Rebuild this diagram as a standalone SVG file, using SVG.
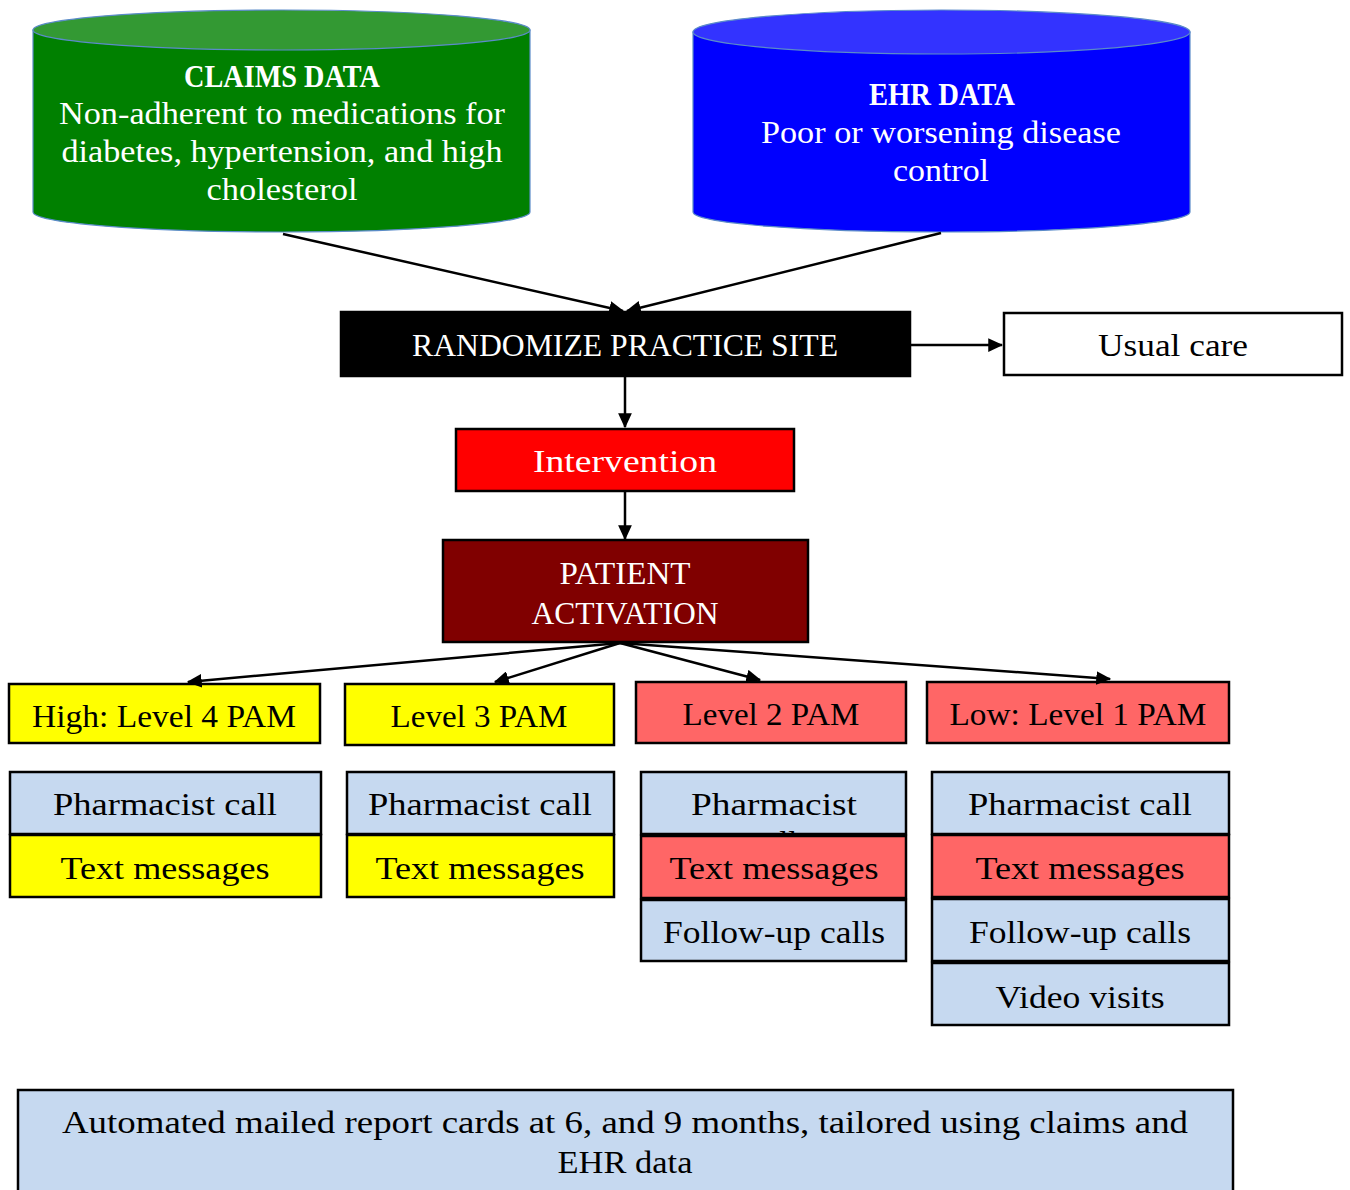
<svg xmlns="http://www.w3.org/2000/svg" width="1350" height="1190" viewBox="0 0 1350 1190">
<defs>
<style>
text{font-family:"Liberation Serif","DejaVu Serif",serif;font-size:32px;text-anchor:middle}
.w{fill:#fff}
.k{fill:#000}
.b{font-weight:bold}
.box{stroke:#000;stroke-width:2.5}
.cyl{stroke:#5b8bc9;stroke-width:1.2}
.con{stroke:#000;stroke-width:2.5;fill:none;marker-end:url(#ah)}
.lb{fill:#c6d9f0}
.ye{fill:#ffff00}
.rd{fill:#ff6666}
</style>
<marker id="ah" markerWidth="6" markerHeight="5.5" refX="5.5" refY="2.75" orient="auto" markerUnits="strokeWidth">
<path d="M0,0 L6,2.75 L0,5.5 z" fill="#000"/>
</marker>
<clipPath id="c3clip"><rect x="641" y="772" width="265" height="62"/></clipPath>
</defs>
<rect width="1350" height="1190" fill="#fff"/>

<g id="claims">
<path class="cyl" d="M33,30 L33,212 A248.5,20 0 0 0 530,212 L530,30 Z" fill="#008000"/>
<ellipse class="cyl" cx="281.5" cy="30" rx="248.5" ry="20" fill="#339933"/>
<text class="w b" x="282" y="87" textLength="196" lengthAdjust="spacingAndGlyphs">CLAIMS DATA</text>
<text class="w" x="282" y="124" textLength="446" lengthAdjust="spacingAndGlyphs">Non-adherent to medications for</text>
<text class="w" x="282" y="162" textLength="441" lengthAdjust="spacingAndGlyphs">diabetes, hypertension, and high</text>
<text class="w" x="282" y="200" textLength="151" lengthAdjust="spacingAndGlyphs">cholesterol</text>
</g>

<g id="ehr">
<path class="cyl" d="M693,32 L693,212 A248.5,20 0 0 0 1190,212 L1190,32 Z" fill="#0000ff"/>
<ellipse class="cyl" cx="941.5" cy="32" rx="248.5" ry="22" fill="#3333ff"/>
<text class="w b" x="942" y="105" textLength="146" lengthAdjust="spacingAndGlyphs">EHR DATA</text>
<text class="w" x="941" y="143" textLength="360" lengthAdjust="spacingAndGlyphs">Poor or worsening disease</text>
<text class="w" x="941" y="181" textLength="96" lengthAdjust="spacingAndGlyphs">control</text>
</g>

<g id="randomize">
<rect class="box" x="341" y="312" width="569" height="64" fill="#000" stroke-width="1"/>
<text class="w" x="625" y="356" textLength="426" lengthAdjust="spacingAndGlyphs">RANDOMIZE PRACTICE SITE</text>
</g>

<g id="usual">
<rect class="box" x="1004" y="313" width="338" height="62" fill="#fff"/>
<text class="k" x="1173" y="356" textLength="150" lengthAdjust="spacingAndGlyphs">Usual care</text>
</g>

<g id="intervention">
<rect class="box" x="456" y="429" width="338" height="62" fill="#ff0000"/>
<text class="w" x="625" y="472" textLength="184" lengthAdjust="spacingAndGlyphs">Intervention</text>
</g>

<g id="activation">
<rect class="box" x="443" y="540" width="365" height="102" fill="#800000"/>
<text class="w" x="625" y="584" textLength="131" lengthAdjust="spacingAndGlyphs">PATIENT</text>
<text class="w" x="625" y="624" textLength="187" lengthAdjust="spacingAndGlyphs">ACTIVATION</text>
</g>

<g id="level4">
<rect class="box ye" x="9" y="684" width="311" height="59"/>
<text class="k" x="164" y="727" textLength="264" lengthAdjust="spacingAndGlyphs">High: Level 4 PAM</text>
</g>
<g id="level3">
<rect class="box ye" x="345" y="684" width="269" height="61"/>
<text class="k" x="479" y="727" textLength="177" lengthAdjust="spacingAndGlyphs">Level 3 PAM</text>
</g>
<g id="level2">
<rect class="box rd" x="636" y="682" width="270" height="61"/>
<text class="k" x="771" y="725" textLength="177" lengthAdjust="spacingAndGlyphs">Level 2 PAM</text>
</g>
<g id="level1">
<rect class="box rd" x="927" y="682" width="302" height="61"/>
<text class="k" x="1078" y="725" textLength="257" lengthAdjust="spacingAndGlyphs">Low: Level 1 PAM</text>
</g>

<g id="c1-pharm">
<rect class="box lb" x="10" y="772" width="311" height="62"/>
<text class="k" x="165" y="815" textLength="224" lengthAdjust="spacingAndGlyphs">Pharmacist call</text>
</g>
<g id="c1-text">
<rect class="box ye" x="10" y="835" width="311" height="62"/>
<text class="k" x="165" y="879" textLength="209" lengthAdjust="spacingAndGlyphs">Text messages</text>
</g>
<g id="c2-pharm">
<rect class="box lb" x="347" y="772" width="267" height="62"/>
<text class="k" x="480" y="815" textLength="224" lengthAdjust="spacingAndGlyphs">Pharmacist call</text>
</g>
<g id="c2-text">
<rect class="box ye" x="347" y="835" width="267" height="62"/>
<text class="k" x="480" y="879" textLength="209" lengthAdjust="spacingAndGlyphs">Text messages</text>
</g>
<g id="c3-pharm">
<rect class="box lb" x="641" y="772" width="265" height="62"/>
<g clip-path="url(#c3clip)">
<text class="k" x="774" y="815" textLength="166" lengthAdjust="spacingAndGlyphs">Pharmacist</text>
<text class="k" x="774" y="853">call</text>
</g>
</g>
<g id="c3-text">
<rect class="box rd" x="641" y="836" width="265" height="62"/>
<text class="k" x="774" y="879" textLength="209" lengthAdjust="spacingAndGlyphs">Text messages</text>
</g>
<g id="c3-follow">
<rect class="box lb" x="641" y="900" width="265" height="61"/>
<text class="k" x="774" y="943" textLength="222" lengthAdjust="spacingAndGlyphs">Follow-up calls</text>
</g>
<g id="c4-pharm">
<rect class="box lb" x="932" y="772" width="297" height="62"/>
<text class="k" x="1080" y="815" textLength="224" lengthAdjust="spacingAndGlyphs">Pharmacist call</text>
</g>
<g id="c4-text">
<rect class="box rd" x="932" y="835" width="297" height="62"/>
<text class="k" x="1080" y="879" textLength="209" lengthAdjust="spacingAndGlyphs">Text messages</text>
</g>
<g id="c4-follow">
<rect class="box lb" x="932" y="899" width="297" height="62"/>
<text class="k" x="1080" y="943" textLength="222" lengthAdjust="spacingAndGlyphs">Follow-up calls</text>
</g>
<g id="c4-video">
<rect class="box lb" x="932" y="963" width="297" height="62"/>
<text class="k" x="1080" y="1008" textLength="169" lengthAdjust="spacingAndGlyphs">Video visits</text>
</g>

<g id="reportcards">
<rect class="box lb" x="18" y="1090" width="1215" height="110"/>
<text class="k" x="625" y="1133" textLength="1126" lengthAdjust="spacingAndGlyphs">Automated mailed report cards at 6, and 9 months, tailored using claims and</text>
<text class="k" x="625" y="1173" textLength="135" lengthAdjust="spacingAndGlyphs">EHR data</text>
</g>

<g id="connectors">
<line class="con" x1="283" y1="234" x2="623" y2="311"/>
<line class="con" x1="941" y1="233" x2="627" y2="311"/>
<line class="con" x1="910" y1="345" x2="1002" y2="345"/>
<line class="con" x1="625" y1="376" x2="625" y2="427"/>
<line class="con" x1="625" y1="491" x2="625" y2="539"/>
<line class="con" x1="620" y1="643" x2="188" y2="682"/>
<line class="con" x1="620" y1="643" x2="495" y2="682"/>
<line class="con" x1="620" y1="643" x2="760" y2="680"/>
<line class="con" x1="620" y1="643" x2="1110" y2="679"/>
</g>
</svg>
